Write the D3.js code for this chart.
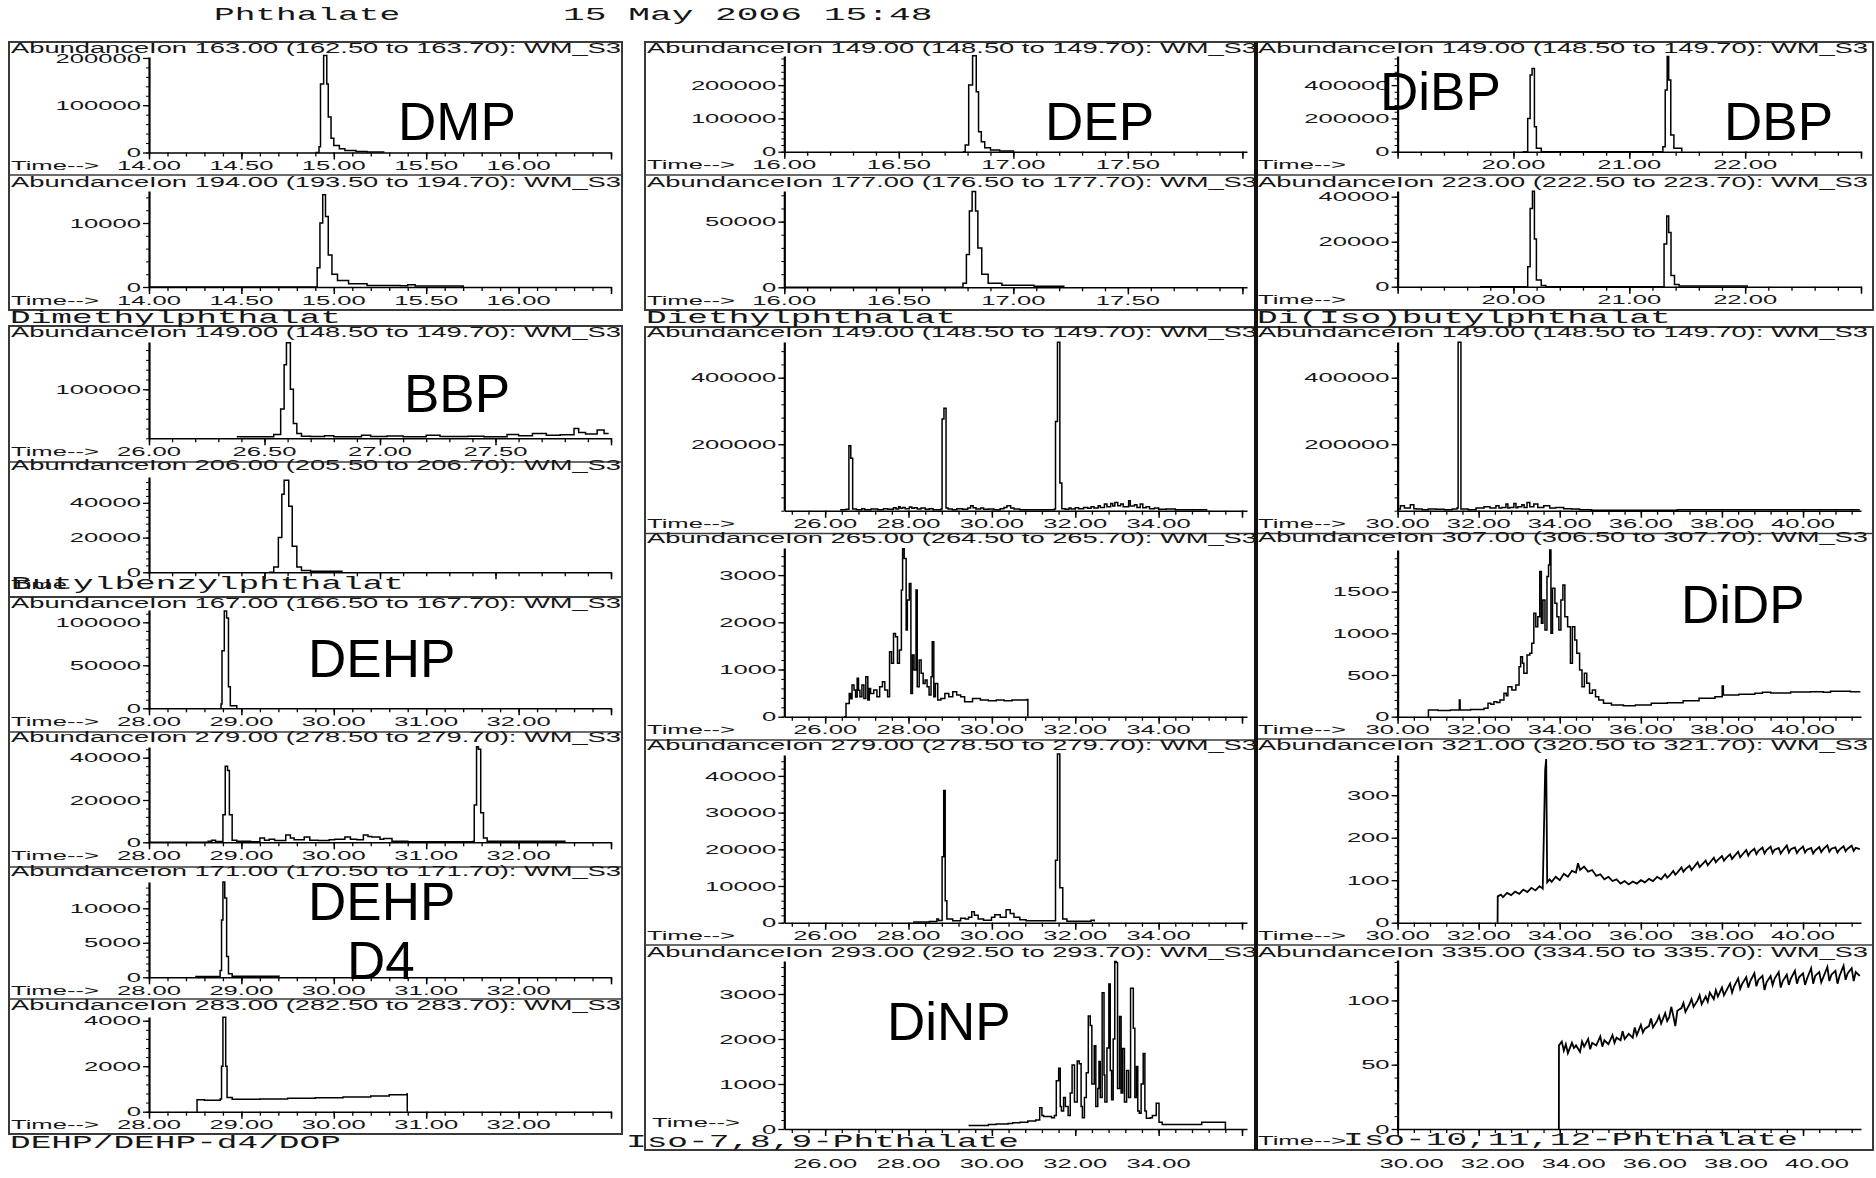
<!DOCTYPE html>
<html>
<head>
<meta charset="utf-8">
<script src="https://cdn.jsdelivr.net/npm/d3@7"></script>
<style>
  body { margin: 0; background: #fff; }
  svg { display: block; }
  .axis path, .axis line { stroke: #000; }
  .axis text { display: none; }
</style>
</head>
<body>
<svg id="chart" width="1876" height="1178"></svg>
<script>
// ---- data: [retention time (min), abundance] ----
var dmp163 = [[14.90,0],[14.92,12000],[14.928,145000],[14.945,205000],[14.962,145000],[14.97,75000],[14.985,30000],[15.00,15000],[15.03,8000],[15.06,4000],[15.12,2000],[15.18,1000],[15.27,0]];
var dmp194 = [[14.0,0],[14.90,0],[14.91,3000],[14.925,10000],[14.94,14400],[14.955,11000],[14.97,5000],[14.99,2000],[15.02,1000],[15.08,500],[15.18,250],[15.36,200],[15.40,350],[15.44,150],[15.70,100],[15.70,0]];
var bbp149 = [[26.38,3000],[26.50,3000],[26.54,8000],[26.57,60000],[26.585,150000],[26.595,195000],[26.612,100000],[26.625,30000],[26.64,10000],[26.66,4000],[26.70,3500],[26.76,5000],[26.80,3000],[26.86,3000],[26.92,6000],[26.96,3500],[27.03,4500],[27.10,3000],[27.20,6000],[27.26,3500],[27.38,4000],[27.45,3000],[27.55,8000],[27.60,5000],[27.66,10000],[27.72,6000],[27.78,7000],[27.84,20000],[27.86,12000],[27.89,9000],[27.94,17000],[27.97,10000],[27.99,10000]];
var bbp206 = [[26.52,0],[26.54,3000],[26.56,20000],[26.575,45000],[26.585,53000],[26.605,38000],[26.62,15000],[26.64,3000],[26.66,1000],[26.70,600],[26.835,0]];
var dehp167 = [[28.77,0],[28.78,5000],[28.79,67000],[28.815,113000],[28.84,105000],[28.86,25000],[28.88,3000],[28.95,0]];
var dehp279 = [[28.0,0],[28.64,500],[28.68,1000],[28.72,400],[28.80,13000],[28.825,36000],[28.85,34000],[28.87,13000],[28.90,1000],[28.95,500],[29.10,300],[29.20,2000],[29.25,1000],[29.30,1500],[29.36,800],[29.48,3500],[29.53,2000],[29.57,1200],[29.68,2500],[29.74,1000],[29.83,800],[29.95,1200],[30.01,1500],[30.12,2500],[30.18,1500],[30.25,1200],[30.32,3500],[30.37,2800],[30.41,2500],[30.50,1500],[30.54,1800],[30.63,500],[30.80,300],[31.20,300],[31.51,500],[31.52,17600],[31.545,45200],[31.565,44000],[31.59,14000],[31.62,2000],[31.66,500],[32.50,500],[32.50,0]];
var dehp171 = [[28.50,100],[28.77,1000],[28.785,8300],[28.80,13800],[28.82,11500],[28.84,3000],[28.86,500],[28.90,150],[29.41,100]];
var dehp283 = [[28.515,0],[28.52,520],[28.60,500],[28.77,560],[28.785,2000],[28.80,4150],[28.83,2000],[28.845,620],[28.90,550],[29.20,560],[29.50,590],[29.80,610],[30.10,650],[30.40,690],[30.60,740],[30.79,780],[30.795,0]];

var dep149 = [[16.78,0],[16.79,20000],[16.805,200000],[16.822,288000],[16.838,180000],[16.848,60000],[16.86,30000],[16.875,12000],[16.90,5000],[16.94,2000],[17.00,0]];
var dep177 = [[16.0,0],[16.77,0],[16.78,3000],[16.795,25000],[16.808,58000],[16.82,73000],[16.835,58000],[16.845,30000],[16.862,10000],[16.89,3000],[16.95,1500],[17.09,800],[17.22,500],[17.22,0]];
var mid149 = [[26.36,3000],[26.50,4000],[26.57,195000],[26.615,158000],[26.66,5000],[26.75,3000],[26.88,6000],[26.95,3000],[27.10,5000],[27.26,3000],[27.40,6000],[27.50,4000],[27.64,9000],[27.70,5000],[27.76,12000],[27.80,7000],[27.86,10000],[27.92,6000],[28.02,11000],[28.08,7000],[28.14,9000],[28.21,5000],[28.30,8000],[28.40,4000],[28.50,6000],[28.59,3000],[28.78,5000],[28.805,276000],[28.85,308000],[28.90,8000],[28.95,5000],[29.05,3000],[29.16,6000],[29.30,4000],[29.42,8000],[29.49,15000],[29.55,9000],[29.62,5000],[29.73,8000],[29.80,4000],[29.92,5000],[30.05,3000],[30.20,6000],[30.29,10000],[30.36,15000],[30.45,8000],[30.53,5000],[30.67,3000],[31.00,3000],[31.33,3000],[31.50,5000],[31.526,268000],[31.573,507000],[31.63,83000],[31.678,6000],[31.76,4000],[31.85,8000],[31.90,5000],[32.00,9000],[32.08,6000],[32.20,10000],[32.30,7000],[32.38,12000],[32.45,8000],[32.55,15000],[32.60,10000],[32.70,20000],[32.76,12000],[32.85,22000],[32.90,14000],[32.95,25000],[33.02,15000],[33.09,20000],[33.15,12000],[33.28,30000],[33.32,14000],[33.42,18000],[33.48,10000],[33.56,20000],[33.62,9000],[33.70,12000],[33.78,6000],[33.90,8000],[34.00,4000],[34.18,5000],[34.40,3000],[34.65,3000],[35.00,3000],[35.17,3000]];
var mid265 = [[26.455,0],[26.50,280],[26.578,494],[26.61,380],[26.645,670],[26.692,565],[26.73,420],[26.768,812],[26.80,560],[26.834,424],[26.882,670],[26.929,388],[26.976,847],[27.024,353],[27.06,600],[27.09,494],[27.166,565],[27.242,424],[27.308,635],[27.374,741],[27.431,565],[27.498,424],[27.545,1377],[27.592,1130],[27.64,1765],[27.687,1694],[27.735,1130],[27.782,1412],[27.829,2683],[27.858,3560],[27.896,3353],[27.943,1836],[27.972,2471],[28.019,2824],[28.057,494],[28.095,1306],[28.133,988],[28.18,2683],[28.209,635],[28.256,1200],[28.303,918],[28.351,706],[28.398,777],[28.445,635],[28.493,459],[28.54,847],[28.569,1589],[28.607,424],[28.645,706],[28.701,353],[28.777,388],[28.872,494],[28.967,424],[29.062,530],[29.156,459],[29.251,424],[29.346,318],[29.536,388],[29.725,353],[29.915,339],[30.104,353],[30.294,339],[30.483,353],[30.673,353],[30.844,367],[30.863,0]];
var mid279 = [[28.11,200],[28.50,300],[28.68,1000],[28.72,600],[28.806,18000],[28.844,36000],[28.88,6000],[28.92,1000],[29.06,500],[29.25,1200],[29.36,1000],[29.44,1500],[29.517,3000],[29.58,2000],[29.67,1000],[29.80,700],[29.99,1500],[30.07,2200],[30.20,1500],[30.341,3500],[30.44,2500],[30.53,1500],[30.67,800],[30.82,500],[31.43,500],[31.526,17000],[31.573,46000],[31.63,9500],[31.70,1000],[31.80,400],[32.30,400],[32.38,700],[32.455,300]];
var mid293 = [[29.44,80],[29.60,80],[29.915,100],[30.10,110],[30.389,120],[30.50,140],[30.673,150],[30.863,180],[31.052,200],[31.147,470],[31.20,300],[31.242,280],[31.431,250],[31.50,300],[31.545,1070],[31.602,1350],[31.64,500],[31.668,400],[31.72,700],[31.763,500],[31.829,300],[31.88,800],[31.924,1420],[31.981,600],[32.047,1510],[32.095,1450],[32.14,500],[32.171,250],[32.22,700],[32.265,1250],[32.313,2510],[32.36,2300],[32.398,1000],[32.455,1850],[32.493,500],[32.54,900],[32.569,1500],[32.60,700],[32.645,3030],[32.69,1200],[32.711,600],[32.76,1800],[32.806,3220],[32.84,1300],[32.872,650],[32.91,2000],[32.948,3720],[32.98,3700],[33.014,900],[33.062,2500],[33.10,800],[33.137,1790],[33.18,600],[33.232,1300],[33.28,700],[33.327,3130],[33.393,2240],[33.43,700],[33.469,1390],[33.50,400],[33.536,350],[33.58,1000],[33.63,1680],[33.67,400],[33.706,240],[33.801,250],[33.85,300],[33.943,570],[34.009,150],[34.085,100],[34.938,100],[35.033,150],[35.602,150],[35.602,0]];

var dbp149 = [[20.08,0],[20.113,0],[20.123,200000],[20.144,460000],[20.161,500000],[20.181,150000],[20.198,20000],[20.24,0],[21.28,0],[21.29,30000],[21.31,370000],[21.327,572000],[21.34,430000],[21.358,100000],[21.385,20000],[21.453,0]];
var dbp223 = [[19.71,0],[20.113,0],[20.123,8900],[20.144,34800],[20.164,42400],[20.181,21200],[20.198,3000],[20.24,500],[20.28,0],[21.28,0],[21.30,19000],[21.323,31400],[21.34,24100],[21.36,5000],[21.39,1000],[21.43,300],[22.018,0]];
var iso149 = [[30.0,5000],[30.069,15000],[30.167,8000],[30.314,18000],[30.40,6000],[30.462,5000],[30.609,3000],[30.756,5000],[30.953,4000],[31.149,3000],[31.346,5000],[31.464,8000],[31.493,507000],[31.562,5000],[31.739,3000],[31.935,8000],[32.132,12000],[32.279,8000],[32.426,15000],[32.50,8000],[32.574,10000],[32.672,20000],[32.72,8000],[32.77,10000],[32.868,22000],[32.92,9000],[32.967,12000],[33.065,18000],[33.12,10000],[33.193,25000],[33.261,12000],[33.36,20000],[33.458,10000],[33.605,15000],[33.752,8000],[33.90,10000],[34.096,6000],[34.293,5000],[34.489,3000],[34.784,1000],[36.896,3000],[41.40,3000]];
var iso307 = [[30.756,0],[30.76,80],[31.0,75],[31.3,80],[31.523,200],[31.542,80],[31.8,85],[32.132,100],[32.23,160],[32.30,150],[32.377,180],[32.45,170],[32.525,200],[32.623,280],[32.68,250],[32.721,360],[32.819,320],[32.917,380],[32.996,600],[33.035,720],[33.08,640],[33.114,520],[33.193,740],[33.261,760],[33.31,880],[33.36,1240],[33.409,1080],[33.458,1200],[33.507,1740],[33.546,1120],[33.585,1400],[33.635,1040],[33.684,1680],[33.723,1820],[33.752,2000],[33.782,1000],[33.821,1540],[33.88,1360],[33.929,1200],[33.978,1040],[34.028,1400],[34.077,1580],[34.126,1200],[34.194,1080],[34.263,640],[34.312,1080],[34.371,920],[34.42,760],[34.489,560],[34.548,360],[34.607,520],[34.666,400],[34.735,280],[34.804,320],[34.882,240],[34.961,200],[35.079,160],[35.275,140],[35.57,132],[35.865,140],[36.257,160],[36.65,168],[37.043,192],[37.436,220],[37.829,240],[37.976,240],[38.006,368],[38.035,260],[38.418,268],[38.811,280],[39.0,292],[39.204,284],[39.695,296],[40.187,300],[40.5,292],[40.678,304],[41.169,300],[41.4,304]];
var iso321 = [[32.466,0],[32.47,62],[32.55,66],[32.6,60],[32.7,70],[32.8,65],[32.9,73],[33.0,68],[33.1,78],[33.2,72],[33.3,82],[33.4,76],[33.5,86],[33.58,80],[33.64,360],[33.665,385],[33.69,95],[33.75,102],[33.8,96],[33.9,108],[34.0,100],[34.1,115],[34.2,108],[34.3,122],[34.4,118],[34.45,140],[34.5,124],[34.6,132],[34.7,120],[34.8,124],[34.9,110],[35.0,114],[35.1,102],[35.2,108],[35.3,98],[35.4,102],[35.5,92],[35.6,98],[35.7,90],[35.8,97],[35.9,92],[36.0,100],[36.1,95],[36.2,103],[36.3,98],[36.4,108],[36.5,102],[36.6,114],[36.65,106],[36.7,110],[36.8,122],[36.85,113],[36.9,118],[37.0,130],[37.05,120],[37.1,126],[37.2,134],[37.25,124],[37.3,130],[37.4,142],[37.45,131],[37.5,136],[37.6,146],[37.65,135],[37.7,141],[37.8,153],[37.85,142],[37.9,148],[38.0,157],[38.05,146],[38.1,152],[38.2,161],[38.25,150],[38.3,156],[38.4,167],[38.45,154],[38.5,160],[38.6,171],[38.65,158],[38.7,166],[38.8,174],[38.85,161],[38.9,169],[39.0,177],[39.05,163],[39.1,171],[39.2,179],[39.25,164],[39.3,172],[39.4,176],[39.45,163],[39.5,170],[39.6,182],[39.65,165],[39.7,173],[39.8,177],[39.85,164],[39.9,171],[40.0,179],[40.05,165],[40.1,172],[40.2,176],[40.25,163],[40.3,170],[40.4,178],[40.45,166],[40.5,173],[40.6,182],[40.65,167],[40.7,174],[40.8,177],[40.85,165],[40.9,172],[41.0,180],[41.05,168],[41.1,174],[41.2,181],[41.25,169],[41.3,176],[41.4,173]];
var iso335 = [[33.978,0],[33.98,65],[34.05,68],[34.1,61],[34.15,66],[34.2,59],[34.3,67],[34.35,63],[34.4,65],[34.5,60],[34.55,68],[34.6,64],[34.7,70],[34.75,62],[34.8,67],[34.9,65],[35.0,72],[35.05,64],[35.1,69],[35.2,66],[35.3,73],[35.35,67],[35.4,71],[35.5,69],[35.55,76],[35.6,70],[35.7,74],[35.8,71],[35.85,79],[35.9,73],[36.0,81],[36.05,75],[36.1,78],[36.2,80],[36.25,86],[36.3,79],[36.4,84],[36.45,88],[36.5,82],[36.6,90],[36.65,84],[36.7,87],[36.75,95],[36.8,88],[36.85,80],[36.9,92],[37.0,94],[37.05,98],[37.1,91],[37.2,97],[37.25,101],[37.3,95],[37.4,100],[37.45,104],[37.5,97],[37.6,103],[37.65,99],[37.7,106],[37.8,101],[37.85,108],[37.9,103],[38.0,110],[38.05,104],[38.1,107],[38.2,113],[38.25,106],[38.3,111],[38.4,117],[38.45,109],[38.5,113],[38.6,118],[38.65,110],[38.7,115],[38.8,121],[38.85,111],[38.9,116],[39.0,119],[39.05,108],[39.1,114],[39.2,119],[39.25,112],[39.3,117],[39.4,122],[39.45,110],[39.5,115],[39.6,120],[39.65,112],[39.7,117],[39.8,123],[39.85,113],[39.9,118],[40.0,121],[40.05,112],[40.1,117],[40.2,125],[40.25,113],[40.3,119],[40.4,122],[40.45,114],[40.5,118],[40.6,126],[40.65,115],[40.7,120],[40.8,123],[40.85,113],[40.9,119],[41.0,127],[41.05,116],[41.1,121],[41.2,125],[41.25,115],[41.3,122],[41.4,119]];

// ion masses, one per panel (left column, middle, right)
var ions = [163, 194, 149, 206, 167, 279, 171, 283, 149, 177, 149, 265, 279, 293, 149, 223, 149, 307, 321, 335];

// time axis tick labels
var dmpLabels = [14, 14.5, 15, 15.5, 16];
var bbpLabels = [26, 26.5, 27, 27.5];
var dehpLabels = [28, 29, 30, 31, 32];
var depLabels = [16, 16.5, 17, 17.5];
var midLabels = [26, 28, 30, 32, 34];
var dbpLabels = [20, 21, 22];
var isoLabels = [30, 32, 34, 36, 38, 40];

var compounds = ["DMP", "DEP", "DiBP", "DBP", "BBP", "DEHP", "DEHP", "D4", "DiDP", "DiNP"];
var captions = ["Dimethylphthalat", "Diethylphthalat", "Di(Iso)butylphthalat", "Butylbenzylphthalat",
                "DEHP/DEHP-d4/DOP", "Iso-7,8,9-Phthalate", "Iso-10,11,12-Phthalate"];

// ---- layout ----
var SX = 1.97;   // the printout is stretched horizontally
var sans = "'Liberation Sans', Arial, Helvetica, sans-serif";
var mono = "'Liberation Mono', 'Courier New', monospace";

var svg = d3.select("#chart");

var columns = [
    {left: 9, right: 622, axisX: 149, axisEnd: 611},
    {left: 645, right: 1257, axisX: 784.3, axisEnd: 1247},
    {left: 1256, right: 1873, axisX: 1397.6, axisEnd: 1861}
];
var frames = [
    {col: 0, top: 42, bottom: 310, dividers: [175]},
    {col: 0, top: 326, bottom: 597, dividers: [462]},
    {col: 0, top: 597, bottom: 1134, dividers: [732, 867, 999]},
    {col: 1, top: 42, bottom: 310, dividers: [175]},
    {col: 1, top: 327, bottom: 1150, dividers: [533.5, 740, 945]},
    {col: 2, top: 42, bottom: 310, dividers: [175]},
    {col: 2, top: 327, bottom: 1150, dividers: [533.5, 739, 945]}
];
var xAxes = {
    dmp:  {domain: [14, 16.5], major: 0.5, minor: 0.1, start: 14, labels: dmpLabels},
    bbp:  {domain: [26, 28], major: 0.5, minor: 0.1, start: 26, labels: bbpLabels},
    dehp: {domain: [28, 33], major: 1, minor: 0.2, start: 28, labels: dehpLabels},
    dep:  {domain: [16, 18.02], major: 0.5, minor: 0.1, start: 16, labels: depLabels},
    mid:  {domain: [25.02, 36.12], major: 2, minor: 0.4, start: 25.2, majorStart: 26, labels: midLabels},
    dbp:  {domain: [19, 23], major: 1, minor: 0.2, start: 19, labels: dbpLabels},
    iso:  {domain: [30, 41.43], major: 2, minor: 0.4, start: 30, labels: isoLabels}
};
var panels = [
    {col: 0, data: dmp163, x: "dmp", base: 152.5, top: 57, yMax: 202000, yTicks: [0, 100000, 200000], yMinor: 20000, titleY: 53},
    {col: 0, data: dmp194, x: "dmp", base: 287, top: 191, yMax: 15000, yTicks: [0, 10000], yMinor: 2000, titleY: 187},
    {col: 0, data: bbp149, x: "bbp", base: 438.3, top: 342, yMax: 196500, yTicks: [100000], yMinor: 20000, titleY: 337},
    {col: 0, data: bbp206, x: "bbp", base: 572.3, top: 477, yMax: 54900, yTicks: [0, 20000, 40000], yMinor: 4000, titleY: 470, noLabels: true, timeY: 589, timeText: "Time"},
    {col: 0, data: dehp167, x: "dehp", base: 708.3, top: 610, yMax: 114300, yTicks: [0, 50000, 100000], yMinor: 10000, titleY: 608},
    {col: 0, data: dehp279, x: "dehp", base: 842.3, top: 747, yMax: 45060, yTicks: [0, 20000, 40000], yMinor: 4000, titleY: 742},
    {col: 0, data: dehp171, x: "dehp", base: 977.3, top: 882, yMax: 13810, yTicks: [0, 5000, 10000], yMinor: 1000, titleY: 876},
    {col: 0, data: dehp283, x: "dehp", base: 1111.7, top: 1017, yMax: 4163, yTicks: [0, 2000, 4000], yMinor: 400, titleY: 1010},
    {col: 1, data: dep149, x: "dep", base: 151.7, top: 56, yMax: 287400, yTicks: [0, 100000, 200000], yMinor: 20000, titleY: 53},
    {col: 1, data: dep177, x: "dep", base: 287.3, top: 191, yMax: 73300, yTicks: [0, 50000], yMinor: 10000, titleY: 187},
    {col: 1, data: mid149, x: "mid", base: 510.7, top: 342, yMax: 507400, yTicks: [200000, 400000], yMinor: 40000, titleY: 337},
    {col: 1, data: mid265, x: "mid", base: 716.7, top: 548, yMax: 3574, yTicks: [0, 1000, 2000, 3000], yMinor: 200, titleY: 543},
    {col: 1, data: mid279, x: "mid", base: 922.7, top: 755, yMax: 45700, yTicks: [0, 10000, 20000, 30000, 40000], yMinor: 2000, titleY: 750},
    {col: 1, data: mid293, x: "mid", base: 1129, top: 961, yMax: 3733, yTicks: [0, 1000, 2000, 3000], yMinor: 200, titleY: 956.7, noLabels: true, timeY: 1127, timeX: 652, bottomLabels: true},
    {col: 2, data: dbp149, x: "dbp", base: 151.7, top: 56, yMax: 574800, yTicks: [0, 200000, 400000], yMinor: 40000, titleY: 53},
    {col: 2, data: dbp223, x: "dbp", base: 286.7, top: 191, yMax: 42530, yTicks: [0, 20000, 40000], yMinor: 4000, titleY: 187},
    {col: 2, data: iso149, x: "iso", base: 510.7, top: 342, yMax: 507400, yTicks: [200000, 400000], yMinor: 40000, titleY: 337},
    {col: 2, data: iso307, x: "iso", base: 716.7, top: 550, yMax: 1999, yTicks: [0, 500, 1000, 1500], yMinor: 100, titleY: 542},
    {col: 2, data: iso321, x: "iso", base: 922.7, top: 755, yMax: 394.6, yTicks: [0, 100, 200, 300], yMinor: 20, titleY: 750, smooth: true},
    {col: 2, data: iso335, x: "iso", base: 1129, top: 960, yMax: 131.4, yTicks: [0, 50, 100], yMinor: 10, titleY: 956.7, noLabels: true, timeY: 1145, bottomLabels: true, bottomShift: 14, smooth: true}
];
var compoundPos = [[398, 140], [1045, 140], [1380, 110], [1724, 140], [404, 411.7], [308, 676.7], [308, 920], [347, 979], [1681, 623.3], [887, 1040]];
var captionPos = [[10, 323], [646, 323], [1257, 323], [11, 589], [10, 1148], [626, 1147], [1343, 1145]];

// stretched text helper (scale around the anchor point)
function stext(parent, x, y, str, font, size, anchor, sx) {
    return parent.append("text")
        .attr("transform", "translate(" + x + "," + y + ") scale(" + (sx || SX) + ",1)")
        .attr("text-anchor", anchor || "start")
        .style("font-family", font)
        .style("font-size", size + "px")
        .style("fill", "#161616")
        .text(str);
}
function steps(a, b, step) {
    var n = Math.round((b - a) / step), out = [];
    for (var i = 0; i <= n; i++) out.push(+(a + i * step).toFixed(3));
    return out.filter(function(v) { return v <= b + 1e-6; });
}
var fmt2 = d3.format(".2f");

// header
stext(svg, 214, 20, "Phthalate", mono, 17.5, "start");
stext(svg, 563, 20, "15 May 2006 15:48", mono, 17.5, "start", 2.07);

// frames
var frameG = svg.append("g");
frames.forEach(function(f) {
    var c = columns[f.col];
    frameG.append("rect")
        .attr("x", c.left).attr("y", f.top)
        .attr("width", c.right - c.left).attr("height", f.bottom - f.top)
        .attr("fill", "none").attr("stroke", "#3a3a3a").attr("stroke-width", 2);
    f.dividers.forEach(function(d) {
        frameG.append("line")
            .attr("x1", c.left).attr("x2", c.right).attr("y1", d).attr("y2", d)
            .attr("stroke", "#3a3a3a").attr("stroke-width", 1.6);
    });
});
// heavy rule between middle and right column
frameG.append("line")
    .attr("x1", 1256).attr("x2", 1256).attr("y1", 42).attr("y2", 1150)
    .attr("stroke", "#111").attr("stroke-width", 4);

// panels
panels.forEach(function(p, i) {
    var c = columns[p.col], xa = xAxes[p.x];
    var x = d3.scaleLinear().domain(xa.domain).range([c.axisX, c.axisEnd]);
    var y = d3.scaleLinear().domain([0, p.yMax]).range([p.base, p.top]);
    var g = svg.append("g");

    // time axis: minor then major ticks
    var xMinor = steps(xa.start, xa.domain[1], xa.minor);
    var xMajor = steps(xa.majorStart || xa.start, xa.domain[1], xa.major);
    g.append("g").attr("class", "axis").attr("transform", "translate(0," + p.base + ")")
        .call(d3.axisBottom(x).tickValues(xMinor).tickSize(4).tickSizeOuter(0).tickFormat(""))
        .call(function(s) { s.select(".domain").attr("stroke-width", 1.6); s.selectAll("line").attr("stroke-width", 1.3); });
    g.append("g").attr("class", "axis").attr("transform", "translate(0," + p.base + ")")
        .call(d3.axisBottom(x).tickValues(xMajor).tickSize(7).tickSizeOuter(0).tickFormat(""))
        .call(function(s) { s.select(".domain").remove(); s.selectAll("line").attr("stroke-width", 1.5); });

    // abundance axis
    var yMinor = d3.range(0, p.yMax, p.yMinor);
    g.append("g").attr("class", "axis").attr("transform", "translate(" + c.axisX + ",0)")
        .call(d3.axisLeft(y).tickValues(yMinor).tickSize(3).tickSizeOuter(0).tickFormat(""))
        .call(function(s) { s.select(".domain").attr("stroke-width", 2.2); s.selectAll("line").attr("stroke-width", 1); });
    g.append("g").attr("class", "axis").attr("transform", "translate(" + c.axisX + ",0)")
        .call(d3.axisLeft(y).tickValues(p.yTicks).tickSize(6).tickSizeOuter(0).tickFormat(""))
        .call(function(s) { s.select(".domain").remove(); s.selectAll("line").attr("stroke-width", 1.3); });
    p.yTicks.forEach(function(v) {
        stext(g, c.axisX - 8, y(v) + 4.6, String(v), sans, 13, "end");
    });

    // trace
    g.append("path")
        .datum(p.data)
        .attr("fill", "none")
        .attr("stroke", "#000")
        .attr("stroke-width", p.smooth ? 1.8 : 1.5)
        .attr("stroke-linejoin", "miter")
        .attr("d", d3.line()
            .x(function(d) { return x(d[0]); })
            .y(function(d) { return y(d[1]); })
            .curve(p.smooth ? d3.curveLinear : d3.curveStepAfter));

    // title line
    var ion = ions[i];
    stext(g, c.left + 2, p.titleY,
        "AbundanceIon " + fmt2(ion) + " (" + fmt2(ion - 0.5) + " to " + fmt2(ion + 0.7) + "): WM_S3",
        sans, 14, "start", 1.95);

    // time label + tick labels
    var labY = p.base + 17.5;
    stext(g, p.timeX || (c.left + 2), p.timeY || labY, p.timeText || "Time-->", sans, 13, "start");
    if (!p.noLabels) {
        xa.labels.forEach(function(v) {
            stext(g, x(v), labY, fmt2(v), sans, 13, "middle");
        });
    }
    if (p.bottomLabels) {
        xa.labels.forEach(function(v) {
            stext(svg, x(v) + (p.bottomShift || 0), 1168, fmt2(v), sans, 13, "middle");
        });
    }
});

// captions under the panels
captions.forEach(function(t, k) {
    stext(svg, captionPos[k][0], captionPos[k][1], t, mono, 17.5, "start");
});

// compound annotations
compounds.forEach(function(t, k) {
    svg.append("text")
        .attr("x", compoundPos[k][0]).attr("y", compoundPos[k][1])
        .style("font-family", sans)
        .style("font-size", "53px")
        .style("fill", "#000")
        .text(t);
});
</script>
</body>
</html>
